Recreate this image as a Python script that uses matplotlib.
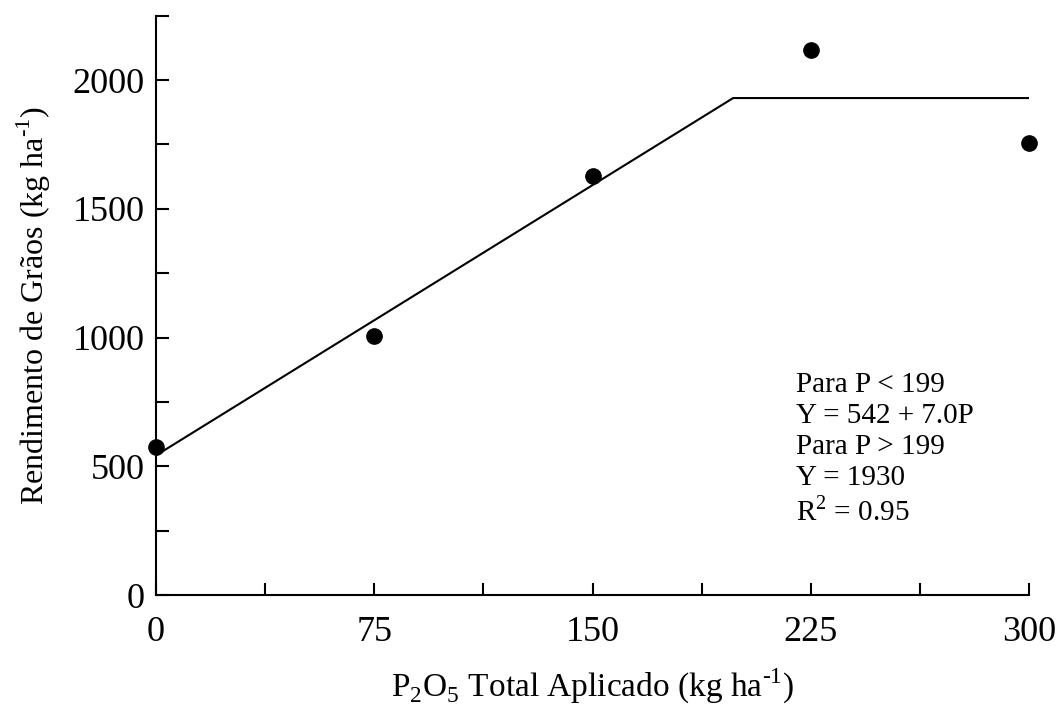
import matplotlib.pyplot as plt
import numpy as np
from matplotlib.ticker import MultipleLocator

plt.rcParams['font.family'] = ['Liberation Serif', 'DejaVu Serif']
plt.rcParams['mathtext.fontset'] = 'custom'
plt.rcParams['mathtext.rm'] = 'Liberation Serif'

# data
doses = [0, 75, 150, 225, 300]
yields = [576, 1008, 1626, 2117, 1755]

# fitted linear-plateau model
intercept = 542
slope = 7.0
plateau = 1930
fit_x = [0, (plateau - intercept) / slope, 300]
fit_y = [intercept, plateau, plateau]

fig = plt.figure(figsize=(10.6, 7.11), dpi=100)
ax = fig.add_axes([0.147, 0.163, 0.824, 0.815])

ax.plot(fit_x, fit_y, color='black', linewidth=1.5)
ax.plot(doses, yields, 'o', color='black', markersize=11, clip_on=False, zorder=3)

ax.set_xlim(0, 300)
ax.set_ylim(0, 2250)
ax.set_xticks([0, 75, 150, 225, 300])
ax.xaxis.set_minor_locator(MultipleLocator(37.5))
ax.set_yticks([0, 500, 1000, 1500, 2000])
ax.yaxis.set_minor_locator(MultipleLocator(250))
ax.tick_params(which='both', direction='in', labelsize=26, width=1.5)
ax.tick_params(which='major', length=9)
ax.tick_params(axis='x', which='major', pad=15)
ax.tick_params(axis='y', which='major', pad=8)
ax.tick_params(which='minor', length=9)
for s in ['top', 'right']:
    ax.spines[s].set_visible(False)
for s in ['left', 'bottom']:
    ax.spines[s].set_linewidth(1.5)

ax.set_xlabel(r'P$_2$O$_5$ Total Aplicado (kg ha$^{\text{-1}}$)', fontsize=24, labelpad=13)
ax.set_ylabel(r'Rendimento de Grãos (kg ha$^{\text{-1}}$)', fontsize=23, labelpad=14)

ax.text(220, 867, 'Para P < 199\nY = 542 + 7.0P\nPara P > 199\nY = 1930\nR$^2$ = 0.95',
        fontsize=21, va='top', ha='left', linespacing=1.25)

fig.savefig('out.png', dpi=100)
